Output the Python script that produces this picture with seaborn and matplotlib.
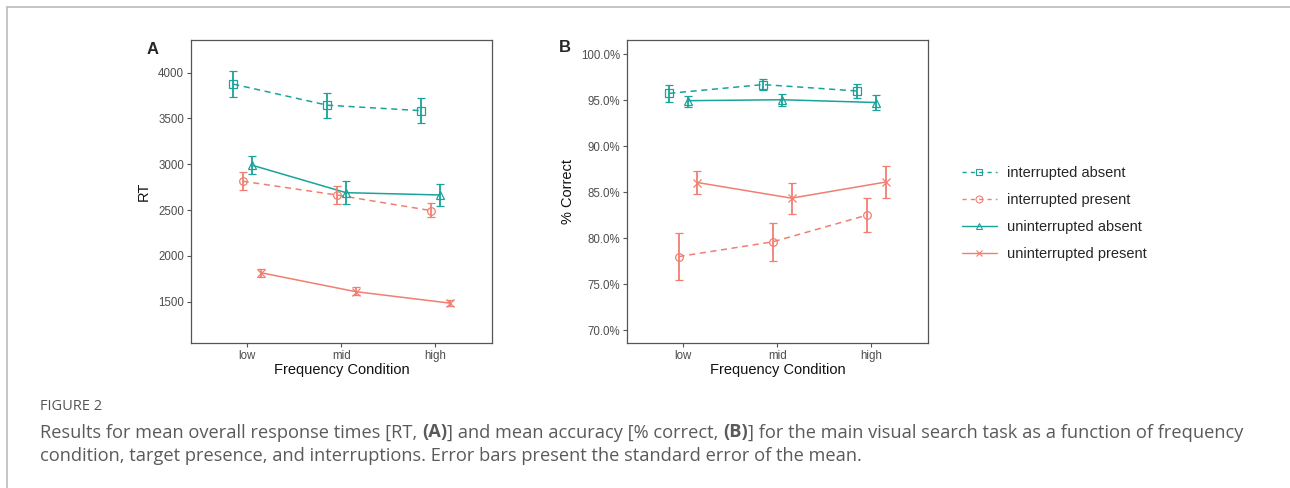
"""
Mean RT and accuracy by frequency condition, target presence and interruptions.
"""

import matplotlib
matplotlib.use("Agg")
import matplotlib.pyplot as plt
from matplotlib.lines import Line2D
from matplotlib.ticker import PercentFormatter
import seaborn as sns
import pandas as pd


# ---- data ----
freq_levels = ["low", "mid", "high"]
groups = ["interrupted absent", "interrupted present",
          "uninterrupted absent", "uninterrupted present"]

# Panel A: response times (mean, lower SE, upper SE)
rt_int_absent = [3875, 3645, 3585]
rt_int_absent_lo = [3730, 3510, 3450]
rt_int_absent_hi = [4020, 3780, 3720]
rt_int_present = [2815, 2665, 2495]
rt_int_present_lo = [2715, 2570, 2420]
rt_int_present_hi = [2920, 2760, 2575]
rt_unint_absent = [2990, 2690, 2665]
rt_unint_absent_lo = [2895, 2565, 2545]
rt_unint_absent_hi = [3090, 2815, 2790]
rt_unint_present = [1815, 1610, 1485]
rt_unint_present_lo = [1775, 1570, 1455]
rt_unint_present_hi = [1855, 1655, 1520]

# Panel B: percent correct
acc_int_absent = [95.75, 96.7, 96.0]
acc_int_absent_lo = [94.85, 96.1, 95.2]
acc_int_absent_hi = [96.6, 97.3, 96.8]
acc_int_present = [78.0, 79.6, 82.5]
acc_int_present_lo = [75.4, 77.55, 80.65]
acc_int_present_hi = [80.6, 81.7, 84.35]
acc_unint_absent = [94.95, 95.05, 94.75]
acc_unint_absent_lo = [94.25, 94.4, 93.95]
acc_unint_absent_hi = [95.5, 95.65, 95.55]
acc_unint_present = [86.05, 84.35, 86.1]
acc_unint_present_lo = [84.8, 82.6, 84.4]
acc_unint_present_hi = [87.3, 86.0, 87.8]

teal = "#1AA39B"
salmon = "#F07F72"
palette = {groups[0]: teal, groups[1]: salmon, groups[2]: teal, groups[3]: salmon}
dashes = {groups[0]: (4, 3), groups[1]: (4, 3), groups[2]: "", groups[3]: ""}
markers = {groups[0]: "s", groups[1]: "o", groups[2]: "^", groups[3]: "x"}
dodge = {groups[0]: -0.15, groups[1]: -0.05, groups[2]: 0.05, groups[3]: 0.15}


def build_frame(means, los, his):
    rows = []
    for g, m, lo, hi in zip(groups, means, los, his):
        for i, f in enumerate(freq_levels):
            rows.append({"group": g, "freq": f, "x": i + 1 + dodge[g],
                         "val": m[i], "lo": lo[i], "hi": hi[i]})
    return pd.DataFrame(rows)


rt_df = build_frame(
    [rt_int_absent, rt_int_present, rt_unint_absent, rt_unint_present],
    [rt_int_absent_lo, rt_int_present_lo, rt_unint_absent_lo, rt_unint_present_lo],
    [rt_int_absent_hi, rt_int_present_hi, rt_unint_absent_hi, rt_unint_present_hi],
)
acc_df = build_frame(
    [acc_int_absent, acc_int_present, acc_unint_absent, acc_unint_present],
    [acc_int_absent_lo, acc_int_present_lo, acc_unint_absent_lo, acc_unint_present_lo],
    [acc_int_absent_hi, acc_int_present_hi, acc_unint_absent_hi, acc_unint_present_hi],
)

sns.set_theme(style="ticks")
plt.rcParams["font.family"] = ["Liberation Sans", "DejaVu Sans"]

fig = plt.figure(figsize=(12.9, 4.88), dpi=100)
ax_a = fig.add_axes([0.148, 0.2971, 0.2333, 0.621])
ax_b = fig.add_axes([0.486, 0.2971, 0.2333, 0.621])


def draw_panel(ax, df):
    sns.lineplot(data=df, x="x", y="val", hue="group", style="group",
                 palette=palette, dashes=dashes, markers=False,
                 linewidth=1.1, legend=False, ax=ax, sort=True)
    for g in groups:
        sub = df[df["group"] == g]
        ax.errorbar(sub["x"], sub["val"],
                    yerr=[sub["val"] - sub["lo"], sub["hi"] - sub["val"]],
                    fmt=markers[g], mfc="none", mec=palette[g], ms=5.5, mew=0.9,
                    ecolor=palette[g], elinewidth=1.3, capsize=3.2, capthick=1.3,
                    linestyle="none")
    ax.set_xlim(0.4, 3.6)
    ax.set_xticks([1, 2, 3])
    ax.set_xticklabels(freq_levels)
    ax.set_xlabel("Frequency Condition", fontsize=10.5, color="#111111", labelpad=1)
    for side in ["top", "right", "left", "bottom"]:
        ax.spines[side].set_visible(True)
        ax.spines[side].set_color("#555555")
        ax.spines[side].set_linewidth(0.9)
    ax.tick_params(axis="both", length=3, width=0.8, color="#555555",
                   labelsize=8.3, labelcolor="#4D4D4D", pad=2)


draw_panel(ax_a, rt_df)
ax_a.set_ylim(1049, 4357)
ax_a.set_yticks([1500, 2000, 2500, 3000, 3500, 4000])
ax_a.set_ylabel("RT", fontsize=10.5, color="#111111", labelpad=5)

draw_panel(ax_b, acc_df)
ax_b.set_ylim(68.6, 101.55)
ax_b.set_yticks([70, 75, 80, 85, 90, 95, 100])
ax_b.yaxis.set_major_formatter(PercentFormatter(decimals=1))
ax_b.set_ylabel("% Correct", fontsize=10.5, color="#111111", labelpad=4)

fig.text(153 / 1290, 1 - 50 / 488, "A", fontsize=12, fontweight="bold",
         ha="center", va="center")
fig.text(565 / 1290, 1 - 48 / 488, "B", fontsize=12, fontweight="bold",
         ha="center", va="center")

handles = [Line2D([0], [0], color=palette[g], lw=1.0,
                  linestyle=(0, (3, 3)) if g.startswith("interrupted") else "-",
                  marker=markers[g], mfc="none", mec=palette[g], ms=5, mew=0.8)
           for g in groups]
fig.legend(handles, groups, loc="center left",
           bbox_to_anchor=(962 / 1290, 1 - 213.5 / 488), frameon=False,
           fontsize=10.5, handlelength=2.4, handletextpad=0.7,
           labelspacing=0.9, borderpad=0, borderaxespad=0)

# outer frame lines
fig.add_artist(Line2D([7 / 1290, 7 / 1290], [0, 1 - 7 / 488], color="#BBBBBB", lw=1.2))
fig.add_artist(Line2D([7 / 1290, 1], [1 - 7 / 488, 1 - 7 / 488], color="#BBBBBB", lw=1.2))

# caption
cap_font = ["Open Sans", "DejaVu Sans"]
cap_color = "#5A5A5A"
fig.text(40 / 1290, 1 - 406 / 488, "FIGURE 2", fontsize=10.5, color="#555555",
         family=cap_font, va="center")

line1 = [("Results for mean overall response times [RT, ", "normal"), ("(A)", "bold"),
         ("] and mean accuracy [% correct, ", "normal"), ("(B)", "bold"),
         ("] for the main visual search task as a function of frequency", "normal")]
renderer = fig.canvas.get_renderer()
x_px = 40
y_base = 1 - 437.5 / 488
for txt, wt in line1:
    t = fig.text(x_px / 1290, y_base, txt, fontsize=13.15, color=cap_color,
                 family=cap_font, fontweight=wt, va="baseline")
    x_px += t.get_window_extent(renderer).width

fig.text(40 / 1290, 1 - 461 / 488,
         "condition, target presence, and interruptions. Error bars present the "
         "standard error of the mean.",
         fontsize=13.15, color=cap_color, family=cap_font, va="baseline")

fig.savefig("out.png", dpi=100)
